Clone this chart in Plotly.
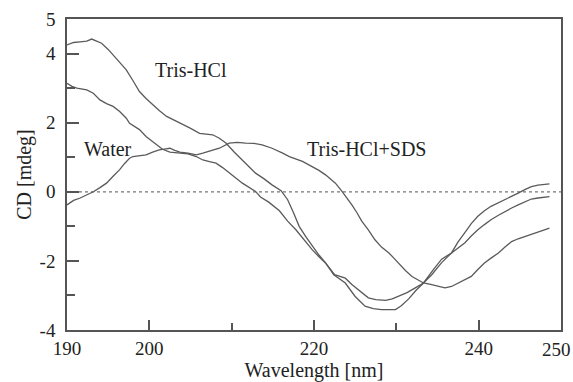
import plotly.graph_objects as go

# Wavelength (nm) and CD (mdeg)
tris_x = [190, 190.8, 191.6, 192.4, 193.0, 193.5, 194.2, 195.0, 195.6, 196.4, 197.2, 198.0, 198.8,
          199.6, 200.4, 201.2, 202.1, 203.0, 203.7, 204.9, 206.1, 207.0, 207.7, 208.5, 209.3,
          210.3, 211.3, 212.1, 212.9, 213.9, 214.9, 216.0, 216.8, 217.5, 218.2, 219.0, 219.8,
          220.6, 221.4, 222.4, 223.8, 225.0, 226.2, 227.2, 228.2, 229.9, 230.6, 231.5, 232.4,
          233.3, 234.5, 235.5, 236.7, 237.5, 238.3, 239.1, 239.9, 240.7, 241.5, 242.4, 243.2,
          244.0, 244.8, 245.6, 246.4, 247.2, 248.0, 248.6]
tris_y = [4.25, 4.32, 4.34, 4.36, 4.42, 4.36, 4.30, 4.12, 3.96, 3.75, 3.53, 3.22, 2.90,
          2.70, 2.51, 2.35, 2.18, 2.08, 1.99, 1.85, 1.69, 1.66, 1.65, 1.55, 1.41,
          1.15, 0.92, 0.73, 0.54, 0.38, 0.20, 0.03, -0.23, -0.60, -1.00, -1.30, -1.58,
          -1.83, -2.06, -2.40, -2.64, -3.03, -3.31, -3.38, -3.41, -3.41, -3.30, -3.10, -2.85,
          -2.64, -2.25, -1.95, -1.77, -1.45, -1.19, -0.92, -0.71, -0.55, -0.42, -0.32, -0.23,
          -0.13, -0.04, 0.06, 0.15, 0.19, 0.22, 0.23]

sds_x = [190, 190.6, 191.2, 192.4, 193.2, 194.0, 194.8, 195.6, 196.4, 197.2, 197.6, 198.8,
         199.6, 200.4, 201.6, 202.5, 203.7, 204.7, 205.7, 206.5, 207.3, 208.1, 208.9, 209.7,
         210.5, 211.3, 212.1, 212.9, 213.5, 214.5, 215.8, 216.8, 217.8, 218.8, 219.8, 220.6,
         221.4, 222.5, 223.8, 224.6, 225.4, 226.6, 227.5, 228.7, 229.5, 230.3, 231.3, 232.3,
         233.3, 234.3, 235.5, 236.7, 237.5, 238.3, 239.1, 239.9, 240.7, 241.5, 242.4, 243.2,
         244.0, 244.8, 245.6, 246.4, 247.2, 248.6]
sds_y = [3.14, 3.05, 3.00, 2.95, 2.85, 2.66, 2.55, 2.47, 2.32, 2.13, 1.98, 1.80,
         1.60, 1.45, 1.23, 1.15, 1.12, 1.10, 1.02, 0.92, 0.87, 0.83, 0.70, 0.54,
         0.40, 0.25, 0.13, 0.01, -0.15, -0.30, -0.55, -0.85, -1.10, -1.40, -1.68, -1.88,
         -2.06, -2.40, -2.50, -2.68, -2.83, -3.07, -3.12, -3.14, -3.10, -3.03, -2.92, -2.78,
         -2.64, -2.40, -2.05, -1.77, -1.62, -1.48, -1.28, -1.10, -0.95, -0.81, -0.68, -0.57,
         -0.47, -0.38, -0.29, -0.21, -0.18, -0.14]

water_x = [190, 190.8, 191.6, 192.4, 192.8, 193.2, 194.0, 194.8, 195.6, 196.4, 197.0, 197.6,
           198.0, 198.8, 199.6, 200.4, 201.2, 202.0, 202.5, 203.1, 203.7, 204.7, 205.7, 206.5,
           207.3, 208.5, 209.7, 210.7, 211.7, 212.7, 213.7, 214.9, 216.2, 217.0, 218.6, 219.8,
           220.6, 221.4, 222.6, 223.4, 224.2, 224.6, 225.2, 225.8, 226.6, 227.4, 228.2, 229.1,
           229.7, 230.3, 231.1, 231.9, 233.3, 234.3, 235.1, 235.9, 236.7, 237.5, 238.3, 239.1,
           239.9, 240.7, 241.5, 242.4, 243.2, 244.0, 244.8, 245.6, 246.4, 247.2, 248.0, 248.6]
water_y = [-0.38, -0.25, -0.18, -0.10, -0.04, 0.00, 0.12, 0.25, 0.45, 0.64, 0.82, 0.97,
           1.02, 1.05, 1.07, 1.15, 1.21, 1.24, 1.26, 1.20, 1.15, 1.12, 1.07, 1.12,
           1.17, 1.26, 1.41, 1.43, 1.41, 1.40, 1.36, 1.26, 1.12, 1.02, 0.88, 0.73,
           0.62, 0.49, 0.25, 0.01, -0.23, -0.38, -0.60, -0.85, -1.10, -1.39, -1.60, -1.77,
           -1.92, -2.08, -2.28, -2.45, -2.64, -2.69, -2.74, -2.78, -2.74, -2.64, -2.55, -2.45,
           -2.25, -2.06, -1.92, -1.77, -1.60, -1.44, -1.36, -1.29, -1.22, -1.15, -1.08, -1.05]

x_major = [190, 200, 220, 240, 250]
x_labeled = [190, 200, 220, 240]   # 250 is drawn as an annotation so it stays inside the page
x_minor = [210, 230]
y_major = [-4, -2, 0, 2, 4, 5]
y_minor = [-3, -1, 1, 3]

labels = ["Tris-HCl", "Water", "Tris-HCl+SDS"]
label_x = [200.45, 191.85, 218.85]
label_y = [3.53, 1.24, 1.24]

LINE = "#5a5a5a"
AXC = "#555555"
FONT = "Liberation Serif"

fig = go.Figure()
fig.add_trace(go.Scatter(x=[190, 250], y=[0, 0], mode="lines",
                         line=dict(color="#777777", width=1.2, dash="dot"), hoverinfo="skip"))
for xs, ys in [(tris_x, tris_y), (sds_x, sds_y), (water_x, water_y)]:
    fig.add_trace(go.Scatter(x=xs, y=ys, mode="lines",
                             line=dict(color=LINE, width=1.3)))

for t, ax, ay in zip(labels, label_x, label_y):
    fig.add_annotation(x=ax, y=ay, text=t, showarrow=False, xanchor="left", yanchor="middle",
                       font=dict(family=FONT, size=20, color="#222222"))

# last x tick label, nudged left to stay within the page
fig.add_annotation(x=x_major[-1], y=0, xref="x", yref="paper", text=str(x_major[-1]),
                   showarrow=False, xanchor="right", yanchor="top", xshift=12, yshift=-7,
                   font=dict(family=FONT, size=19, color="#222222"))

tickvals_x = x_major
ticktext_x = [str(v) if v in x_labeled else "" for v in x_major]

fig.update_layout(
    width=573, height=382,
    margin=dict(l=67, r=12, t=19, b=52),
    paper_bgcolor="white", plot_bgcolor="white",
    showlegend=False,
    font=dict(family=FONT, size=19, color="#222222"),
    xaxis=dict(range=[190, 250], tickvals=tickvals_x, ticktext=ticktext_x,
               ticks="inside", ticklen=10, tickwidth=1.5, tickcolor=AXC,
               minor=dict(tickvals=x_minor, ticks="inside", ticklen=7, tickwidth=1.5, tickcolor=AXC),
               showline=True, linecolor=AXC, linewidth=1.5, mirror=True, automargin=False,
               showgrid=False, zeroline=False, ticklabelstandoff=0,
               title=dict(text="Wavelength [nm]", font=dict(family=FONT, size=20), standoff=6)),
    yaxis=dict(range=[-4, 5], tickvals=y_major, ticktext=[str(v) for v in y_major],
               ticks="inside", ticklen=12, tickwidth=1.5, tickcolor=AXC,
               minor=dict(tickvals=y_minor, ticks="inside", ticklen=8, tickwidth=1.5, tickcolor=AXC),
               showline=True, linecolor=AXC, linewidth=1.5, mirror=True, automargin=False,
               showgrid=False, zeroline=False, ticklabelstandoff=6, ticklabeloverflow="allow",
               title=dict(text="CD [mdeg]", font=dict(family=FONT, size=20), standoff=3)),
)

fig.write_html("out.html")
